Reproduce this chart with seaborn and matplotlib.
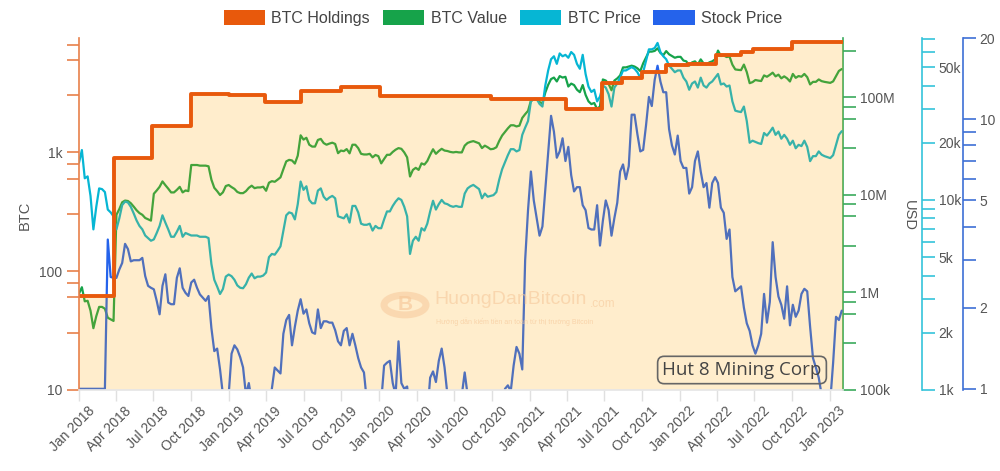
import pandas as pd
import numpy as np
import matplotlib
matplotlib.use('Agg')
import matplotlib.pyplot as plt
import matplotlib.dates as mdates
import matplotlib.ticker as mticker
import matplotlib.transforms as mtransforms
from matplotlib.patches import Patch, Circle
import seaborn as sns

# weekly samples (Mondays), Jan 2018 - Jan 2023
weeks = pd.date_range('2018-01-01', '2023-01-30', freq='7D')

# BTC price, thousand USD
btc_price_k = [
    15.7, 18.3, 13.0, 13.3, 10.5, 7.0, 9.2, 11.5, 11.4, 11.0,
    8.9, 8.6, 8.2, 7.0, 8.0, 9.4, 9.8, 9.7, 9.2, 8.5,
    7.8, 7.3, 7.0, 6.5, 6.3, 6.1, 6.2, 6.7, 7.3, 8.3,
    7.6, 7.0, 6.4, 6.4, 6.8, 7.3, 6.4, 6.7, 6.6, 6.5,
    6.5, 6.5, 6.4, 6.4, 6.4, 6.3, 4.6, 3.8, 3.5, 3.2,
    3.4, 3.95, 4.05, 3.97, 3.8, 3.55, 3.45, 3.43, 3.6, 3.9,
    4.1, 3.87, 3.95, 3.95, 4.0, 4.15, 5.0, 5.2, 5.15, 5.4,
    5.7, 6.9, 8.3, 8.6, 8.5, 7.9, 9.5, 12.5, 11.3, 11.8,
    10.0, 9.6, 9.6, 11.2, 11.5, 10.4, 10.0, 10.3, 10.5, 10.2,
    8.2, 8.1, 8.0, 8.4, 7.6, 9.3, 9.3, 8.6, 7.5, 7.4,
    7.4, 7.5, 6.9, 7.3, 7.1, 7.1, 7.9, 8.7, 8.7, 9.3,
    9.8, 10.2, 10.0, 9.2, 8.2, 5.2, 6.1, 6.4, 6.1, 7.1,
    6.9, 7.5, 8.7, 9.9, 8.9, 9.5, 10.0, 9.6, 9.5, 9.3,
    9.2, 9.3, 9.2, 9.2, 10.8, 11.5, 11.8, 12.0, 11.7, 11.4,
    10.2, 10.8, 10.4, 10.5, 10.6, 11.0, 12.8, 14.5, 15.8, 17.2,
    18.5, 18.5, 18.0, 18.3, 22.0, 24.0, 26.0, 33.0, 34.0, 34.0,
    32, 31, 40, 48, 55, 57, 52, 59, 57, 58,
    56, 60, 58, 52, 49, 58, 46, 39.5, 37, 38,
    33, 35, 40, 39, 36, 31, 39, 41, 44, 48,
    48, 49, 50, 49, 47, 44, 47, 54, 62, 62,
    63, 67, 60, 57, 55, 51, 49, 47, 48, 48,
    44, 42, 38, 41, 42, 39, 44, 40, 39, 41,
    42, 44, 46, 40.5, 41, 39.5, 40, 33, 29.5, 29.2,
    29, 31, 26, 20, 20.5, 20.2, 19.9, 19.7, 22.5, 21.8,
    22.8, 24, 22, 22.9, 21, 22, 21, 19.5, 20.5, 18.7,
    19.5, 19.2, 20.5, 19, 16, 17, 17, 18, 17.3, 17,
    16.8, 16.6, 17.2, 19.5, 22, 23,
]

# value of BTC held, million USD
btc_value_m = [
    0.97, 1.13, 0.81, 0.82, 0.65, 0.43, 0.57, 0.71, 0.71, 0.68,
    0.55, 0.53, 0.51, 6.24, 7.13, 8.38, 8.73, 8.64, 8.20, 7.57,
    6.95, 6.50, 6.24, 5.79, 5.61, 5.44, 10.25, 11.08, 12.07, 13.72,
    12.56, 11.57, 10.58, 10.58, 11.24, 12.07, 10.58, 11.08, 10.91, 20.2,
    20.2, 20.2, 19.9, 19.9, 19.9, 19.6, 14.3, 11.8, 10.9, 9.95,
    10.6, 12.3, 12.6, 12.0, 11.5, 10.7, 10.4, 10.4, 10.9, 11.8,
    12.4, 11.7, 11.9, 11.9, 12.1, 11.0, 13.3, 13.8, 13.6, 14.3,
    15.1, 18.3, 22.0, 22.8, 22.5, 20.9, 25.2, 40.7, 36.8, 38.4,
    32.6, 31.2, 31.2, 36.5, 37.4, 33.9, 32.6, 33.5, 34.2, 33.2,
    26.7, 28.4, 28.0, 29.4, 26.6, 32.6, 32.6, 30.1, 26.3, 25.9,
    25.9, 26.3, 24.2, 25.6, 24.9, 21.0, 23.3, 25.7, 25.7, 27.5,
    29.0, 30.1, 29.6, 27.2, 24.2, 15.4, 18.0, 18.9, 18.0, 21.0,
    20.4, 22.2, 25.7, 29.3, 26.3, 28.1, 29.6, 28.4, 28.1, 27.5,
    27.2, 27.5, 27.2, 27.2, 31.9, 34.0, 34.9, 35.5, 34.6, 33.7,
    30.1, 31.9, 30.7, 29.3, 29.6, 30.7, 35.7, 40.5, 44.1, 48.0,
    51.6, 51.6, 50.2, 51.1, 61.4, 67.0, 72.5, 92.1, 94.9, 94.9,
    89.3, 86.5, 111.6, 133.9, 153.5, 159.0, 145.1, 164.6, 159.0, 161.8,
    128.7, 137.9, 133.3, 119.5, 112.6, 133.3, 105.7, 90.8, 85.0, 87.3,
    75.8, 80.4, 152.0, 148.2, 136.8, 117.8, 148.2, 155.8, 167.2, 202.1,
    202.1, 206.3, 210.5, 206.3, 197.9, 185.2, 222.4, 255.5, 293.3, 293.3,
    298.1, 317.0, 283.9, 269.7, 297.0, 275.4, 264.6, 253.8, 259.2, 259.2,
    237.6, 233.1, 210.9, 227.6, 233.1, 216.5, 244.2, 222.0, 216.5, 227.6,
    233.1, 244.2, 300.5, 264.6, 267.9, 258.1, 261.3, 215.6, 192.7, 190.8,
    189.5, 216.0, 181.1, 139.3, 142.8, 150.2, 148.0, 146.5, 167.3, 162.1,
    169.5, 178.5, 163.6, 170.3, 156.2, 163.6, 156.2, 145.0, 173.2, 158.0,
    164.8, 162.2, 173.2, 160.6, 135.2, 143.7, 143.7, 152.1, 146.2, 143.7,
    142.0, 140.3, 145.3, 164.8, 185.9, 194.4,
]

# Hut 8 share price
stock_price = [
    1, 1, 1, 1, 1, 1, 1, 1, 1, 1,
    3.58, 2.6, 2.58, 2.58, 2.77, 2.93, 3.45, 3.3, 2.97, 3.0,
    3.0, 3.0, 3.06, 2.62, 2.41, 2.37, 2.34, 2.12, 1.89, 2.41,
    2.66, 2.09, 2.06, 2.06, 2.58, 2.8, 2.37, 2.27, 2.21, 2.48,
    2.54, 2.37, 2.24, 2.18, 2.12, 2.21, 1.68, 1.38, 1.41, 1.18,
    0.95, 0.9, 0.95, 1.35, 1.45, 1.4, 1.31, 1.2, 0.95, 1.05,
    0.9, 0.8, 0.8, 0.8, 0.8, 0.8, 0.8, 1.0, 1.2, 1.17,
    1.14, 1.6, 1.8, 1.88, 1.45, 1.7, 1.95, 2.15, 1.9, 1.97,
    1.75, 1.62, 1.6, 1.97, 1.68, 1.78, 1.78, 1.76, 1.76, 1.65,
    1.5, 1.45, 1.64, 1.68, 1.45, 1.6, 1.45, 1.3, 1.2, 1.15,
    0.9, 0.8, 0.8, 0.8, 0.8, 0.9, 1.22, 1.25, 1.27, 1.05,
    0.95, 1.5, 1.05, 1.0, 1.02, 0.8, 0.8, 0.8, 0.8, 0.8,
    0.8, 0.8, 1.1, 1.16, 1.06, 1.27, 1.41, 1.2, 0.95, 0.8,
    0.8, 0.8, 0.8, 0.95, 1.15, 0.95, 0.8, 0.8, 0.8, 0.8,
    0.8, 0.8, 0.8, 0.8, 0.8, 0.8, 0.8, 0.8, 1.0, 1.03,
    0.98, 1.22, 1.43, 1.35, 1.18, 3.0, 4.6, 6.4, 5.0, 4.3,
    3.7, 4.0, 5.5, 7.6, 10.3, 9.0, 7.2, 7.6, 8.5, 7.0,
    7.9, 6.2, 5.4, 5.6, 5.6, 4.8, 4.6, 3.95, 3.9, 3.9,
    4.8, 3.4, 4.2, 5.0, 4.6, 3.7, 4.3, 4.9, 6.4, 6.8,
    6.0, 6.7, 10.4, 10.4, 8.8, 7.6, 7.7, 9.5, 12.1, 11.2,
    14.0, 15.8, 13.8, 12.6, 12.6, 9.2, 8.0, 7.4, 8.7, 7.0,
    6.6, 6.6, 5.3, 5.6, 7.0, 7.6, 6.4, 5.6, 5.8, 4.7,
    5.8, 6.1, 5.8, 4.7, 4.5, 3.6, 3.9, 2.6, 2.3, 2.35,
    2.4, 2.0, 1.75, 1.64, 1.45, 1.35, 1.45, 1.6, 2.25, 1.76,
    2.1, 3.5, 2.6, 2.2, 2.05, 1.82, 2.4, 1.72, 2.05, 1.85,
    1.95, 2.25, 2.35, 2.3, 1.7, 1.3, 1.2, 1.1, 0.95, 0.85,
    0.85, 0.9, 1.25, 1.85, 1.8, 1.95,
]

# BTC holdings, changes (step function)
hold_dates = ['2018-01-01', '2018-03-27', '2018-06-27', '2018-09-30', '2019-01-01',
              '2019-03-29', '2019-06-24', '2019-09-29', '2020-01-02', '2020-09-29',
              '2021-03-30', '2021-06-26', '2021-08-14', '2021-10-01', '2021-11-29',
              '2022-01-20', '2022-03-31', '2022-05-31', '2022-06-29', '2022-09-30',
              '2023-02-02']
hold_btc = [62, 891, 1653, 3110, 3020, 2650, 3255, 3500, 2955, 2790,
            2298, 3800, 4210, 4731, 5400, 5550, 6533, 6967, 7436, 8450, 8450]

C_HOLD = '#E8590C'
C_VAL = '#16A34A'
C_PRICE = '#06B6D4'
C_STOCK = '#2563EB'
GREY = '#555555'
WM = '#F6C89A'

df = pd.DataFrame({'date': weeks, 'price': np.array(btc_price_k) * 1000,
                   'value': np.array(btc_value_m) * 1e6, 'stock': stock_price})
hold = pd.DataFrame({'date': pd.to_datetime(hold_dates), 'btc': hold_btc})

sns.set_theme(style='white')
plt.rcParams['font.family'] = ['Liberation Sans', 'DejaVu Sans']

fig = plt.figure(figsize=(10, 4.71), dpi=100)
ax_h = fig.add_axes([0.079, 0.172, 0.764, 0.747])
ax_v = ax_h.twinx()
ax_p = ax_h.twinx()
ax_s = ax_h.twinx()
ax_h.set_zorder(3)
ax_h.patch.set_visible(False)

sns.lineplot(data=df, x='date', y='value', ax=ax_v, color=C_VAL, lw=1.6)
sns.lineplot(data=df, x='date', y='price', ax=ax_p, color=C_PRICE, lw=1.6)
sns.lineplot(data=df, x='date', y='stock', ax=ax_s, color=C_STOCK, lw=1.6)

ax_h.fill_between(hold['date'], hold['btc'], 10, step='post', color='#FFA500', alpha=0.2, lw=0)
sns.lineplot(data=hold, x='date', y='btc', ax=ax_h, color=C_HOLD, lw=2.8, drawstyle='steps-post')

for a in (ax_h, ax_v, ax_p, ax_s):
    a.set_yscale('log')
    a.set_xlabel('')
    a.set_ylabel('')
    for s in a.spines.values():
        s.set_visible(False)

ax_h.set_xlim(pd.Timestamp('2018-01-01'), pd.Timestamp('2023-02-02'))
ax_h.set_ylim(10, 9100)
ax_v.set_ylim(1e5, 4.03e8)
ax_p.set_ylim(1000, 71000)
ax_s.set_ylim(0.99, 20)


def set_log_ticks(a, major, labels, minor, color, side):
    a.yaxis.set_major_locator(mticker.FixedLocator(major))
    a.yaxis.set_major_formatter(mticker.FixedFormatter(labels))
    a.yaxis.set_minor_locator(mticker.FixedLocator(minor))
    a.yaxis.set_minor_formatter(mticker.NullFormatter())
    a.spines[side].set_visible(True)
    a.spines[side].set_color(color)
    a.spines[side].set_linewidth(1.2)
    kw = {side: True}
    a.tick_params(axis='y', which='both', direction='out', length=9, width=1.2,
                  color=color, labelcolor=GREY, labelsize=10, pad=3, **kw)


set_log_ticks(ax_h, [10, 100, 1000], ['10', '100', '1k'],
              [30, 60, 80, 300, 600, 800, 3000, 6000, 8000], '#E8804A', 'left')
set_log_ticks(ax_v, [1e5, 1e6, 1e7, 1e8], ['100k', '1M', '10M', '100M'],
              [3e5, 6e5, 8e5, 3e6, 6e6, 8e6, 3e7, 6e7, 8e7, 3e8], '#3BAA5C', 'right')
set_log_ticks(ax_p, [1000, 2000, 5000, 10000, 20000, 50000], ['1k', '2k', '5k', '10k', '20k', '50k'],
              [3000, 4000, 6000, 7000, 8000, 9000, 30000, 40000, 60000, 70000], '#35C3DA', 'right')
set_log_ticks(ax_s, [1, 2, 5, 10, 20], ['1', '2', '5', '10', '20'],
              [3, 4, 6, 7, 8, 9], '#3D6FD6', 'right')
ax_p.spines['right'].set_position(('axes', 1.1034))
ax_s.spines['right'].set_position(('axes', 1.157))

# x axis
ax_h.spines['bottom'].set_visible(True)
ax_h.spines['bottom'].set_color('#e6e6e6')
ax_h.xaxis.set_major_locator(mdates.MonthLocator(bymonth=[1, 4, 7, 10]))
ax_h.xaxis.set_major_formatter(mdates.DateFormatter('%b %Y'))
ax_h.tick_params(axis='x', bottom=True, length=8, width=1, color='#e0e0e0',
                 labelcolor=GREY, labelsize=10, pad=2)
shift = mtransforms.ScaledTranslation(6 / 72, 0, fig.dpi_scale_trans)
for lbl in ax_h.get_xticklabels():
    lbl.set_rotation(45)
    lbl.set_ha('right')
    lbl.set_rotation_mode('anchor')
    lbl.set_transform(lbl.get_transform() + shift)

fig.text(0.025, 1 - 215 / 471, 'BTC', rotation=90, ha='center', va='center', color=GREY, fontsize=10.5)
fig.text(0.909, 1 - 215 / 471, 'USD', rotation=270, ha='center', va='center', color=GREY, fontsize=10.5)

# legend
handles = [Patch(fc=c, ec='none', label=l) for c, l in
           [(C_HOLD, 'BTC Holdings'), (C_VAL, 'BTC Value'), (C_PRICE, 'BTC Price'), (C_STOCK, 'Stock Price')]]
fig.legend(handles=handles, loc='center', bbox_to_anchor=(0.503, 0.962), ncol=4, frameon=False,
           handlelength=2.6, handleheight=1.1, handletextpad=0.4, columnspacing=0.8,
           fontsize=11.5, labelcolor='#444')

# watermark
fig.patches.append(Circle((0.405, 1 - 305 / 471), 0.021, transform=fig.transFigure,
                          fc='none', ec=WM, lw=5, alpha=0.55, zorder=5))
fig.text(0.405, 1 - 305 / 471, 'B', ha='center', va='center', fontsize=15, fontweight='bold',
         color=WM, alpha=0.65, zorder=5)
fig.text(0.434, 1 - 300 / 471, 'HuongDanBitcoin', ha='left', va='center', fontsize=14,
         color=WM, alpha=0.6, zorder=5)
fig.text(0.590, 1 - 304 / 471, '.com', ha='left', va='center', fontsize=8.5,
         color=WM, alpha=0.6, zorder=5)
fig.text(0.436, 1 - 322 / 471, 'Hướng dẫn kiếm tiền an toàn từ thị trường Bitcoin', ha='left', va='center',
         fontsize=5, color=WM, alpha=0.7, zorder=5)

fig.text(0.742, 1 - 370 / 471, 'Hut 8 Mining Corp', ha='center', va='center', fontsize=13.5,
         color='#444444', family=['Open Sans', 'DejaVu Sans'], zorder=10,
         bbox=dict(boxstyle='round,pad=0.25,rounding_size=0.35', fc='none', ec='#666666', lw=1.2))

fig.savefig('out.png', dpi=100)
